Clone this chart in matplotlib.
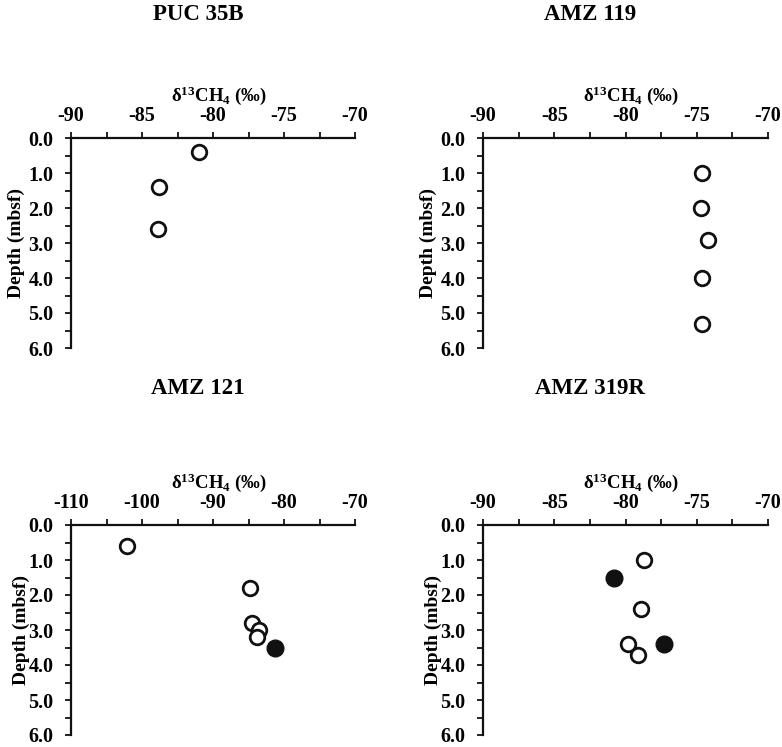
import matplotlib
matplotlib.use('Agg')
import matplotlib.pyplot as plt
from matplotlib.ticker import MultipleLocator, FormatStrFormatter

plt.rcParams['font.family'] = ['Liberation Serif', 'DejaVu Serif']
plt.rcParams['font.weight'] = 'bold'
plt.rcParams['mathtext.fontset'] = 'custom'
plt.rcParams['mathtext.rm'] = 'Liberation Serif:bold'
plt.rcParams['mathtext.it'] = 'Liberation Serif:bold'
plt.rcParams['mathtext.bf'] = 'Liberation Serif:bold'

# site names
titles = ['PUC 35B', 'AMZ 119', 'AMZ 121', 'AMZ 319R']

# open circles: d13C-CH4 (permil) and depth (mbsf)
open_d13c = [
    [-81.0, -83.8, -83.9],
    [-74.6, -74.7, -74.2, -74.65, -74.6],
    [-102.1, -84.8, -84.5, -83.5, -83.75],
    [-78.7, -78.9, -79.85, -79.1],
]
open_depth = [
    [0.4, 1.4, 2.6],
    [1.0, 2.0, 2.9, 4.0, 5.3],
    [0.6, 1.8, 2.8, 3.0, 3.2],
    [1.0, 2.4, 3.4, 3.7],
]

# filled circles
filled_d13c = [[], [], [-81.2], [-80.8, -77.3]]
filled_depth = [[], [], [3.5], [1.5, 3.4]]

# axis ranges
x_ranges = [(-90, -70), (-90, -70), (-110, -70), (-90, -70)]
x_major = [5, 5, 10, 5]

W, H = 782, 747
fig = plt.figure(figsize=(W / 100, H / 100), dpi=100)

# axes boxes in pixels: left, top, right, bottom
boxes = [(71, 138, 355, 348), (483, 138, 768, 348),
         (71, 525, 355, 735), (483, 525, 768, 735)]
title_pos = [(198, 15), (590, 15), (198, 388), (590, 388)]
ylab_off = [-55, -55, -50, -50]

for i in range(4):
    l, t, r, b = boxes[i]
    ax = fig.add_axes([l / W, (H - b) / H, (r - l) / W, (b - t) / H])
    ax.set_xlim(*x_ranges[i])
    ax.set_ylim(6.0, 0.0)

    ax.plot(open_d13c[i], open_depth[i], 'o', ms=10.5, mfc='white',
            mec='#111111', mew=2.0, clip_on=False, zorder=3)
    if filled_d13c[i]:
        ax.plot(filled_d13c[i], filled_depth[i], 'o', ms=12, mfc='#111111',
                mec='#111111', mew=1.0, clip_on=False, zorder=4)

    for s in ['right', 'bottom']:
        ax.spines[s].set_visible(False)
    for s in ['top', 'left']:
        ax.spines[s].set_linewidth(1.6)
        ax.spines[s].set_color('#111111')

    ax.xaxis.tick_top()
    ax.xaxis.set_major_locator(MultipleLocator(x_major[i]))
    ax.xaxis.set_minor_locator(MultipleLocator(x_major[i] / 2))
    ax.xaxis.set_major_formatter(FormatStrFormatter('%d'))
    ax.yaxis.set_major_locator(MultipleLocator(1.0))
    ax.yaxis.set_minor_locator(MultipleLocator(0.5))
    ax.yaxis.set_major_formatter(FormatStrFormatter('%.1f'))
    ax.tick_params(which='both', direction='out', length=4.5, width=1.3,
                   color='#111111', labelsize=14.5)
    ax.tick_params(axis='x', which='major', pad=4)
    ax.tick_params(axis='y', which='major', pad=8)
    for lab in ax.get_xticklabels() + ax.get_yticklabels():
        lab.set_fontweight('bold')

    ax.text(0.52, 1.15, r'δ$^{13}$CH$_4$ (‰)', transform=ax.transAxes,
            ha='center', va='bottom', fontsize=13.5, fontweight='bold')
    fig.text((l + ylab_off[i]) / W, (H - (t + b) / 2) / H, 'Depth (mbsf)',
             rotation=90, ha='center', va='center', fontsize=14,
             fontweight='bold')

    tx, ty = title_pos[i]
    fig.text(tx / W, (H - ty) / H, titles[i], ha='center', va='center',
             fontsize=16.5, fontweight='bold')

fig.savefig('out.png', dpi=100)
